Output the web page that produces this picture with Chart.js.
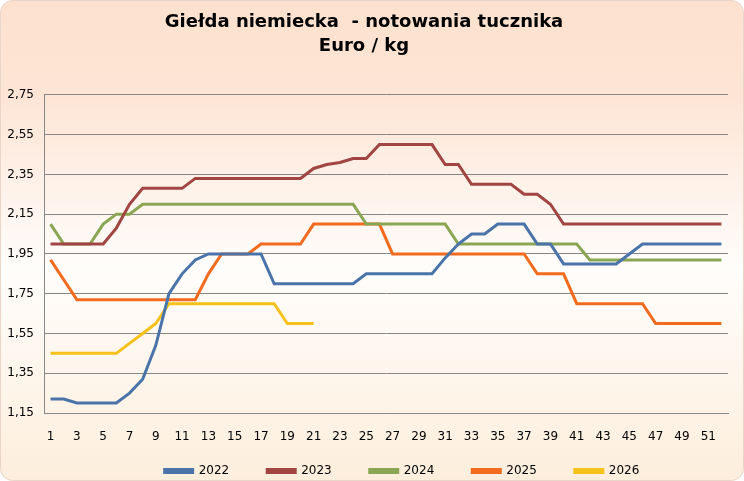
<!DOCTYPE html>
<html>
<head>
<meta charset="utf-8">
<script src="https://cdn.jsdelivr.net/npm/chart.js@4/dist/chart.umd.min.js"></script>
<style>
  html, body { margin: 0; padding: 0; background: #ffffff; }
  #wrap { width: 744px; height: 481px; }
</style>
</head>
<body>
<div id="wrap"><canvas id="wykres" width="744" height="481"></canvas></div>
<script>
// tygodnie 1..52
const tygodnie = Array.from({ length: 52 }, (_, i) => String(i + 1))

const lata = ['2022', '2023', '2024', '2025', '2026']
const kolory = ['#4a74a9', '#a04541', '#8aa652', '#f26b1e', '#f7c11b']

const ceny2022 = [1.22, 1.22, 1.20, 1.20, 1.20, 1.20, 1.25, 1.32, 1.49, 1.75, 1.85, 1.92,
  1.95, 1.95, 1.95, 1.95, 1.95, 1.80, 1.80, 1.80, 1.80, 1.80, 1.80, 1.80,
  1.85, 1.85, 1.85, 1.85, 1.85, 1.85, 1.93, 2.00, 2.05, 2.05, 2.10, 2.10, 2.10,
  2.00, 2.00, 1.90, 1.90, 1.90, 1.90, 1.90, 1.95, 2.00, 2.00, 2.00, 2.00, 2.00, 2.00, 2.00]
const ceny2023 = [2.00, 2.00, 2.00, 2.00, 2.00, 2.08, 2.20, 2.28, 2.28, 2.28, 2.28,
  2.33, 2.33, 2.33, 2.33, 2.33, 2.33, 2.33, 2.33, 2.33, 2.38, 2.40, 2.41, 2.43, 2.43,
  2.50, 2.50, 2.50, 2.50, 2.50, 2.40, 2.40, 2.30, 2.30, 2.30, 2.30, 2.25, 2.25, 2.20,
  2.10, 2.10, 2.10, 2.10, 2.10, 2.10, 2.10, 2.10, 2.10, 2.10, 2.10, 2.10, 2.10]
const ceny2024 = [2.10, 2.00, 2.00, 2.00, 2.10, 2.15, 2.15,
  2.20, 2.20, 2.20, 2.20, 2.20, 2.20, 2.20, 2.20, 2.20, 2.20, 2.20, 2.20, 2.20, 2.20, 2.20, 2.20, 2.20,
  2.10, 2.10, 2.10, 2.10, 2.10, 2.10, 2.10,
  2.00, 2.00, 2.00, 2.00, 2.00, 2.00, 2.00, 2.00, 2.00, 2.00,
  1.92, 1.92, 1.92, 1.92, 1.92, 1.92, 1.92, 1.92, 1.92, 1.92, 1.92]
const ceny2025 = [1.92, 1.82, 1.72, 1.72, 1.72, 1.72, 1.72, 1.72, 1.72, 1.72, 1.72, 1.72,
  1.85, 1.95, 1.95, 1.95, 2.00, 2.00, 2.00, 2.00, 2.10, 2.10, 2.10, 2.10, 2.10, 2.10,
  1.95, 1.95, 1.95, 1.95, 1.95, 1.95, 1.95, 1.95, 1.95, 1.95, 1.95,
  1.85, 1.85, 1.85, 1.70, 1.70, 1.70, 1.70, 1.70, 1.70, 1.60, 1.60, 1.60, 1.60, 1.60, 1.60]
const ceny2026 = [1.45, 1.45, 1.45, 1.45, 1.45, 1.45, 1.50, 1.55, 1.60,
  1.70, 1.70, 1.70, 1.70, 1.70, 1.70, 1.70, 1.70, 1.70, 1.60, 1.60, 1.60]

const serie = [ceny2022, ceny2023, ceny2024, ceny2025, ceny2026]

const osY = { min: 1.15, max: 2.75, krok: 0.2 }

const FONT = 'Verdana, "DejaVu Sans", sans-serif'
const SIATKA = '#878787'

// tło z gradientem i zaokrąglonymi rogami
const tloWykresu = {
  id: 'tloWykresu',
  beforeDraw(chart) {
    const { ctx, width, height } = chart
    const g = ctx.createLinearGradient(0, 0, 0, height)
    g.addColorStop(0, '#fde1ce')
    g.addColorStop(0.2, '#fde5d5')
    g.addColorStop(0.56, '#fffdfb')
    g.addColorStop(1, '#fdeedc')
    ctx.save()
    ctx.beginPath()
    ctx.roundRect(0.5, 0.5, width - 1, height - 1, 12)
    ctx.fillStyle = g
    ctx.fill()
    ctx.strokeStyle = '#e9d6c8'
    ctx.lineWidth = 1
    ctx.stroke()
    ctx.restore()
  }
}

// legenda w Excelu stoi trochę w prawo i niżej niż liczy Chart.js
const przesunLegende = {
  id: 'przesunLegende',
  afterLayout(chart) {
    const lg = chart.legend
    const dx = 38, dy = -16
    lg.left += dx; lg.right += dx
    lg.top += dy; lg.bottom += dy
  }
}

new Chart(document.getElementById('wykres'), {
  type: 'line',
  data: {
    labels: tygodnie,
    datasets: lata.map((rok, i) => ({
      label: rok,
      data: serie[i],
      borderColor: kolory[i],
      backgroundColor: kolory[i],
      borderWidth: 3,
      pointRadius: 0,
      pointHoverRadius: 0,
      tension: 0,
      fill: false
    }))
  },
  options: {
    responsive: false,
    animation: false,
    layout: { padding: { left: 0, right: 16, top: 0, bottom: -22 } },
    scales: {
      x: {
        offset: true,
        grid: { display: false },
        border: { display: true, color: SIATKA, width: 1 },
        ticks: {
          autoSkip: false,
          maxRotation: 0,
          padding: 9,
          color: '#000',
          font: { family: FONT, size: 12 },
          callback: (v, i) => (i % 2 === 0 ? tygodnie[i] : '')
        },
        afterFit: (s) => { s.height = 30 }
      },
      y: {
        min: osY.min,
        max: osY.max,
        grid: { color: SIATKA, lineWidth: 1, drawTicks: false },
        border: { display: true, color: SIATKA, width: 1 },
        ticks: {
          stepSize: osY.krok,
          padding: 10,
          color: '#000',
          font: { family: FONT, size: 12 },
          callback: (v) => v.toFixed(2).replace('.', ',')
        },
        afterFit: (s) => { s.width = 44 }
      }
    },
    plugins: {
      title: {
        display: true,
        text: ['Giełda niemiecka  - notowania tucznika', 'Euro / kg'],
        color: '#000',
        font: { family: FONT, size: 18, weight: 'bold', lineHeight: 1.33 },
        padding: { top: 10, bottom: 37 }
      },
      legend: {
        position: 'bottom',
        labels: {
          boxWidth: 28,
          boxHeight: 3,
          padding: 38,
          color: '#000',
          font: { family: FONT, size: 12 }
        }
      },
      tooltip: { enabled: false }
    }
  },
  plugins: [tloWykresu, przesunLegende]
})
</script>
</body>
</html>
